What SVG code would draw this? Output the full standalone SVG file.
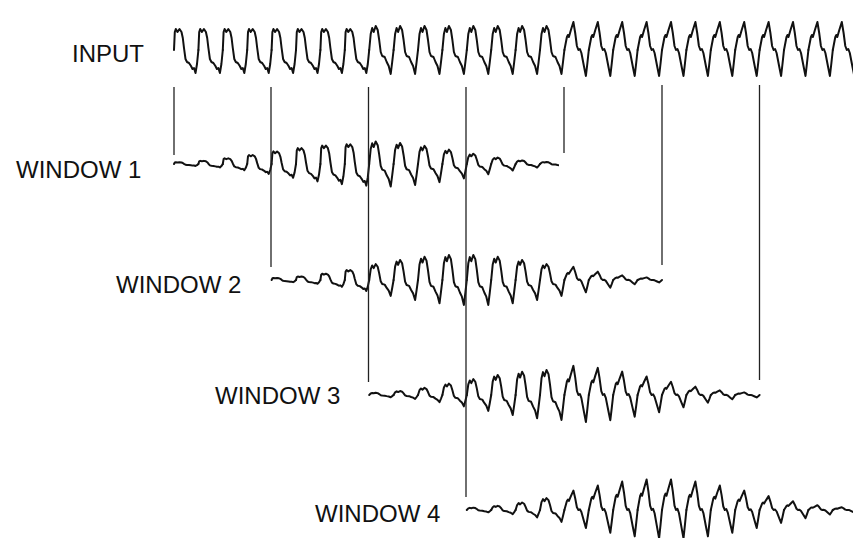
<svg xmlns="http://www.w3.org/2000/svg" xmlns:xlink="http://www.w3.org/1999/xlink" width="853" height="538" viewBox="0 0 853 538">
<style>
.wave{fill:none;stroke:#111;stroke-width:2;stroke-linejoin:round;stroke-linecap:round;vector-effect:non-scaling-stroke}
.lbl{font-family:"Liberation Sans",Arial,sans-serif;font-size:24px;fill:#111}
.conn{stroke:#222;stroke-width:1.3;fill:none}
</style>
<defs>
<path id="A" class="wave" vector-effect="non-scaling-stroke" d="M0,0 L0.8,-18 1.8,-21 3.5,-18 5.5,-21 7.5,-18 8.8,-12 10,-2 11.5,9 13,12 15,13 17,16 18.5,19 20,18 21.5,23 23,14 24.4,0"/>
<path id="B" class="wave" vector-effect="non-scaling-stroke" d="M0,0 L1.5,-16 3,-22 4.5,-18 6.5,-24 8.5,-20 10,-10 11.5,2 13,6 15.5,7 17.5,12 19.5,16 21.5,24 23,12 24.4,0"/>
<path id="C" class="wave" vector-effect="non-scaling-stroke" d="M0,0 L2.5,-13 3.5,-15 4.5,-13 6.5,-20 9,-28 10.8,-17 12.5,-4 14,0 15.5,-1 17,3 19.5,16 21.5,26 23,13 24.4,0"/>
<clipPath id="clip1"><rect x="0" y="0" width="559" height="538"/></clipPath>
</defs>
<g id="input">
<text class="lbl" x="72" y="62">INPUT</text>
<g id="input-wave">
<use href="#A" transform="translate(174,50)"/>
<use href="#A" transform="translate(198.4,50)"/>
<use href="#A" transform="translate(222.8,50)"/>
<use href="#A" transform="translate(247.2,50)"/>
<use href="#A" transform="translate(271.6,50)"/>
<use href="#A" transform="translate(296,50)"/>
<use href="#A" transform="translate(320.4,50)"/>
<use href="#A" transform="translate(344.8,50)"/>
<use href="#B" transform="translate(369.2,50)"/>
<use href="#B" transform="translate(393.6,50)"/>
<use href="#B" transform="translate(418,50)"/>
<use href="#B" transform="translate(442.4,50)"/>
<use href="#B" transform="translate(466.8,50)"/>
<use href="#B" transform="translate(491.2,50)"/>
<use href="#B" transform="translate(515.6,50)"/>
<use href="#B" transform="translate(540,50)"/>
<use href="#C" transform="translate(564.4,50)"/>
<use href="#C" transform="translate(588.8,50)"/>
<use href="#C" transform="translate(613.2,50)"/>
<use href="#C" transform="translate(637.6,50)"/>
<use href="#C" transform="translate(662,50)"/>
<use href="#C" transform="translate(686.4,50)"/>
<use href="#C" transform="translate(710.8,50)"/>
<use href="#C" transform="translate(735.2,50)"/>
<use href="#C" transform="translate(759.6,50)"/>
<use href="#C" transform="translate(784,50)"/>
<use href="#C" transform="translate(808.4,50)"/>
<use href="#C" transform="translate(832.8,50)"/>
</g>
</g>
<g id="window1">
<text class="lbl" x="16" y="178">WINDOW 1</text>
<g id="window1-wave" clip-path="url(#clip1)">
<use href="#A" transform="translate(174,164) scale(1,0.085)"/>
<use href="#A" transform="translate(198.4,164) scale(1,0.149)"/>
<use href="#A" transform="translate(222.8,164) scale(1,0.270)"/>
<use href="#A" transform="translate(247.2,164) scale(1,0.428)"/>
<use href="#A" transform="translate(271.6,164) scale(1,0.599)"/>
<use href="#A" transform="translate(296,164) scale(1,0.756)"/>
<use href="#A" transform="translate(320.4,164) scale(1,0.877)"/>
<use href="#A" transform="translate(344.8,164) scale(1,0.941)"/>
<use href="#B" transform="translate(369.2,164) scale(1,0.941)"/>
<use href="#B" transform="translate(393.6,164) scale(1,0.877)"/>
<use href="#B" transform="translate(418,164) scale(1,0.756)"/>
<use href="#B" transform="translate(442.4,164) scale(1,0.599)"/>
<use href="#B" transform="translate(466.8,164) scale(1,0.428)"/>
<use href="#B" transform="translate(491.2,164) scale(1,0.270)"/>
<use href="#B" transform="translate(515.6,164) scale(1,0.149)"/>
<use href="#B" transform="translate(540,164) scale(1,0.085)"/>
</g>
</g>
<g id="window2">
<text class="lbl" x="116" y="293">WINDOW 2</text>
<g id="window2-wave">
<use href="#A" transform="translate(271.6,280) scale(1,0.093)"/>
<use href="#A" transform="translate(296,280) scale(1,0.165)"/>
<use href="#A" transform="translate(320.4,280) scale(1,0.298)"/>
<use href="#A" transform="translate(344.8,280) scale(1,0.473)"/>
<use href="#B" transform="translate(369.2,280) scale(1,0.662)"/>
<use href="#B" transform="translate(393.6,280) scale(1,0.836)"/>
<use href="#B" transform="translate(418,280) scale(1,0.969)"/>
<use href="#B" transform="translate(442.4,280) scale(1,1.041)"/>
<use href="#B" transform="translate(466.8,280) scale(1,1.041)"/>
<use href="#B" transform="translate(491.2,280) scale(1,0.969)"/>
<use href="#B" transform="translate(515.6,280) scale(1,0.836)"/>
<use href="#B" transform="translate(540,280) scale(1,0.662)"/>
<use href="#C" transform="translate(564.4,280) scale(1,0.473)"/>
<use href="#C" transform="translate(588.8,280) scale(1,0.298)"/>
<use href="#C" transform="translate(613.2,280) scale(1,0.165)"/>
<use href="#C" transform="translate(637.6,280) scale(1,0.093)"/>
</g>
</g>
<g id="window3">
<text class="lbl" x="215" y="404">WINDOW 3</text>
<g id="window3-wave">
<use href="#B" transform="translate(369.2,395) scale(1,0.093)"/>
<use href="#B" transform="translate(393.6,395) scale(1,0.165)"/>
<use href="#B" transform="translate(418,395) scale(1,0.298)"/>
<use href="#B" transform="translate(442.4,395) scale(1,0.473)"/>
<use href="#B" transform="translate(466.8,395) scale(1,0.662)"/>
<use href="#B" transform="translate(491.2,395) scale(1,0.836)"/>
<use href="#B" transform="translate(515.6,395) scale(1,0.969)"/>
<use href="#B" transform="translate(540,395) scale(1,1.041)"/>
<use href="#C" transform="translate(564.4,395) scale(1,1.041)"/>
<use href="#C" transform="translate(588.8,395) scale(1,0.969)"/>
<use href="#C" transform="translate(613.2,395) scale(1,0.836)"/>
<use href="#C" transform="translate(637.6,395) scale(1,0.662)"/>
<use href="#C" transform="translate(662,395) scale(1,0.473)"/>
<use href="#C" transform="translate(686.4,395) scale(1,0.298)"/>
<use href="#C" transform="translate(710.8,395) scale(1,0.165)"/>
<use href="#C" transform="translate(735.2,395) scale(1,0.093)"/>
</g>
</g>
<g id="window4">
<text class="lbl" x="315" y="522">WINDOW 4</text>
<g id="window4-wave">
<use href="#B" transform="translate(466.8,510) scale(1,0.098)"/>
<use href="#B" transform="translate(491.2,510) scale(1,0.173)"/>
<use href="#B" transform="translate(515.6,510) scale(1,0.312)"/>
<use href="#B" transform="translate(540,510) scale(1,0.495)"/>
<use href="#C" transform="translate(564.4,510) scale(1,0.693)"/>
<use href="#C" transform="translate(588.8,510) scale(1,0.876)"/>
<use href="#C" transform="translate(613.2,510) scale(1,1.015)"/>
<use href="#C" transform="translate(637.6,510) scale(1,1.090)"/>
<use href="#C" transform="translate(662,510) scale(1,1.090)"/>
<use href="#C" transform="translate(686.4,510) scale(1,1.015)"/>
<use href="#C" transform="translate(710.8,510) scale(1,0.876)"/>
<use href="#C" transform="translate(735.2,510) scale(1,0.693)"/>
<use href="#C" transform="translate(759.6,510) scale(1,0.495)"/>
<use href="#C" transform="translate(784,510) scale(1,0.312)"/>
<use href="#C" transform="translate(808.4,510) scale(1,0.173)"/>
<use href="#C" transform="translate(832.8,510) scale(1,0.098)"/>
</g>
</g>
<g id="connectors">
<line class="conn" x1="174" y1="87" x2="174" y2="155"/>
<line class="conn" x1="271" y1="87" x2="271" y2="267"/>
<line class="conn" x1="368.5" y1="87" x2="368.5" y2="382"/>
<line class="conn" x1="466" y1="87" x2="466" y2="497"/>
<line class="conn" x1="564" y1="87" x2="564" y2="153"/>
<line class="conn" x1="662" y1="85" x2="662" y2="265"/>
<line class="conn" x1="759.5" y1="85" x2="759.5" y2="380"/>
</g>
</svg>
